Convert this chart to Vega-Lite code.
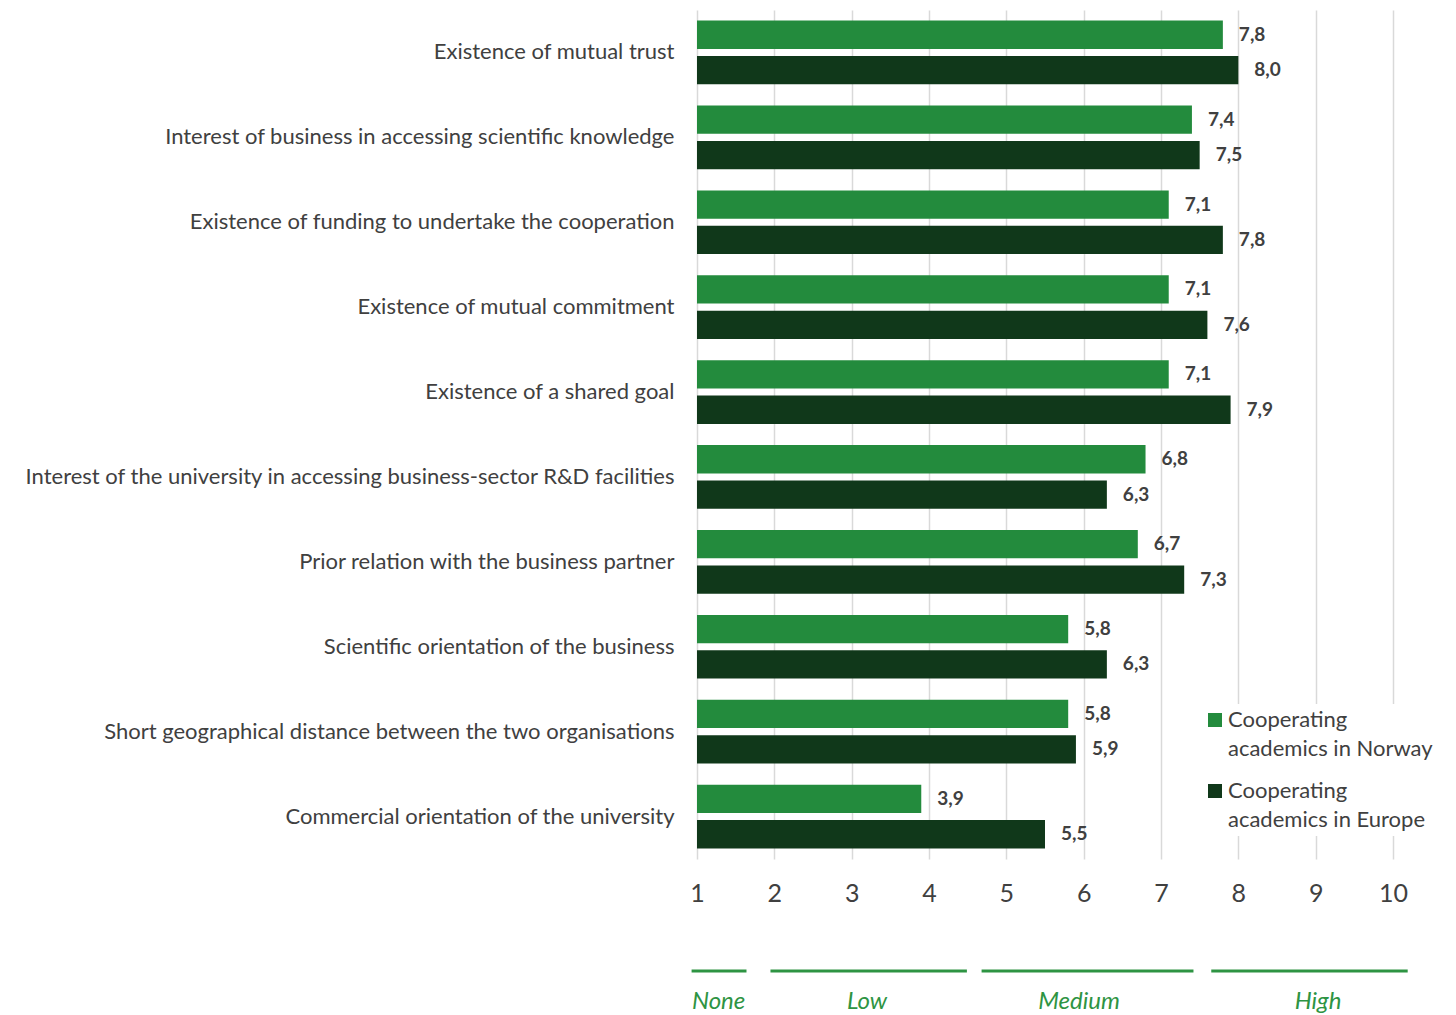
{
  "$schema": "https://vega.github.io/schema/vega-lite/v6.json",
  "padding": {"left": 23, "top": 10, "right": 10, "bottom": 0},
  "background": "white",
  "spacing": 63,
  "config": {
    "view": {"stroke": null},
    "font": "Lato",
    "locale": {"number": {"decimal": ",", "thousands": ".", "grouping": [3], "currency": ["", " €"]}},
    "style": {"guide-label": {"lineHeight": 29}}
  },
  "vconcat": [
    {
      "width": 696,
      "height": 849,
      "data": {"values": [
        {"factor": "Existence of mutual trust", "group": "Cooperating academics in Norway", "score": 7.8},
        {"factor": "Existence of mutual trust", "group": "Cooperating academics in Europe", "score": 8.0},
        {"factor": "Interest of business in accessing scientific knowledge", "group": "Cooperating academics in Norway", "score": 7.4},
        {"factor": "Interest of business in accessing scientific knowledge", "group": "Cooperating academics in Europe", "score": 7.5},
        {"factor": "Existence of funding to undertake the cooperation", "group": "Cooperating academics in Norway", "score": 7.1},
        {"factor": "Existence of funding to undertake the cooperation", "group": "Cooperating academics in Europe", "score": 7.8},
        {"factor": "Existence of mutual commitment", "group": "Cooperating academics in Norway", "score": 7.1},
        {"factor": "Existence of mutual commitment", "group": "Cooperating academics in Europe", "score": 7.6},
        {"factor": "Existence of a shared goal", "group": "Cooperating academics in Norway", "score": 7.1},
        {"factor": "Existence of a shared goal", "group": "Cooperating academics in Europe", "score": 7.9},
        {"factor": "Interest of the university in accessing business-sector R&D facilities", "group": "Cooperating academics in Norway", "score": 6.8},
        {"factor": "Interest of the university in accessing business-sector R&D facilities", "group": "Cooperating academics in Europe", "score": 6.3},
        {"factor": "Prior relation with the business partner", "group": "Cooperating academics in Norway", "score": 6.7},
        {"factor": "Prior relation with the business partner", "group": "Cooperating academics in Europe", "score": 7.3},
        {"factor": "Scientific orientation of the business", "group": "Cooperating academics in Norway", "score": 5.8},
        {"factor": "Scientific orientation of the business", "group": "Cooperating academics in Europe", "score": 6.3},
        {"factor": "Short geographical distance between the two organisations", "group": "Cooperating academics in Norway", "score": 5.8},
        {"factor": "Short geographical distance between the two organisations", "group": "Cooperating academics in Europe", "score": 5.9},
        {"factor": "Commercial orientation of the university", "group": "Cooperating academics in Norway", "score": 3.9},
        {"factor": "Commercial orientation of the university", "group": "Cooperating academics in Europe", "score": 5.5}
      ]},
      "encoding": {
        "y": {
          "field": "factor", "type": "nominal", "sort": null,
          "scale": {"paddingInner": 0.25, "paddingOuter": 0.125},
          "axis": {"title": null, "labelFontSize": 22, "labelColor": "#404040", "labelPadding": 23, "ticks": false, "domain": false, "labelLimit": 800}
        },
        "yOffset": {
          "field": "group", "type": "nominal", "sort": null,
          "scale": {"paddingInner": 0.2, "paddingOuter": 0}
        },
        "x": {
          "field": "score", "type": "quantitative",
          "scale": {"domain": [1, 10], "nice": false, "zero": false},
          "axis": {"title": null, "values": [1, 2, 3, 4, 5, 6, 7, 8, 9, 10], "format": "d", "grid": true, "gridColor": "#d9d9d9", "gridWidth": 1.5, "domain": false, "ticks": false, "labelFlush": false, "labelFontSize": 25, "labelColor": "#404040", "labelPadding": 22}
        }
      },
      "layer": [
        {
          "mark": {"type": "bar"},
          "encoding": {
            "x2": {"datum": 1},
            "color": {
              "field": "group", "type": "nominal",
              "scale": {"domain": ["Cooperating academics in Norway", "Cooperating academics in Europe"], "range": ["#238B3D", "#10381A"]},
              "legend": {
                "title": null, "orient": "none", "legendX": 502, "legendY": 694,
                "fillColor": "white", "padding": 5,
                "symbolType": "square", "symbolSize": 196, "symbolStrokeWidth": 0,
                "labelFontSize": 22, "labelColor": "#404040", "labelLimit": 400, "labelOffset": 2,
                "rowPadding": 20,
                "labelExpr": "['Cooperating', substring(datum.label, 12)]"
              }
            }
          }
        },
        {
          "mark": {"type": "text", "align": "left", "baseline": "middle", "dx": 16, "fontWeight": "bold", "fontSize": 19, "color": "#404040"},
          "encoding": {"text": {"field": "score", "type": "quantitative", "format": ".1f"}}
        }
      ]
    },
    {
      "width": 696,
      "height": 31,
      "data": {"values": [
        {"level": "None", "start": 0.93, "end": 1.64, "mid": 1.28},
        {"level": "Low", "start": 1.95, "end": 4.49, "mid": 3.2},
        {"level": "Medium", "start": 4.68, "end": 7.42, "mid": 5.94},
        {"level": "High", "start": 7.65, "end": 10.19, "mid": 9.03}
      ]},
      "layer": [
        {
          "mark": {"type": "rule", "color": "#2E9443", "strokeWidth": 3},
          "encoding": {
            "x": {"field": "start", "type": "quantitative", "scale": {"domain": [1, 10], "nice": false, "zero": false}, "axis": null},
            "x2": {"field": "end"},
            "y": {"datum": 1, "type": "quantitative", "scale": {"domain": [0, 1]}, "axis": null}
          }
        },
        {
          "mark": {"type": "text", "fontStyle": "italic", "fontSize": 24, "color": "#2E9443", "baseline": "middle"},
          "encoding": {
            "x": {"field": "mid", "type": "quantitative"},
            "y": {"datum": 0, "type": "quantitative"},
            "text": {"field": "level", "type": "nominal"}
          }
        }
      ]
    }
  ]
}
